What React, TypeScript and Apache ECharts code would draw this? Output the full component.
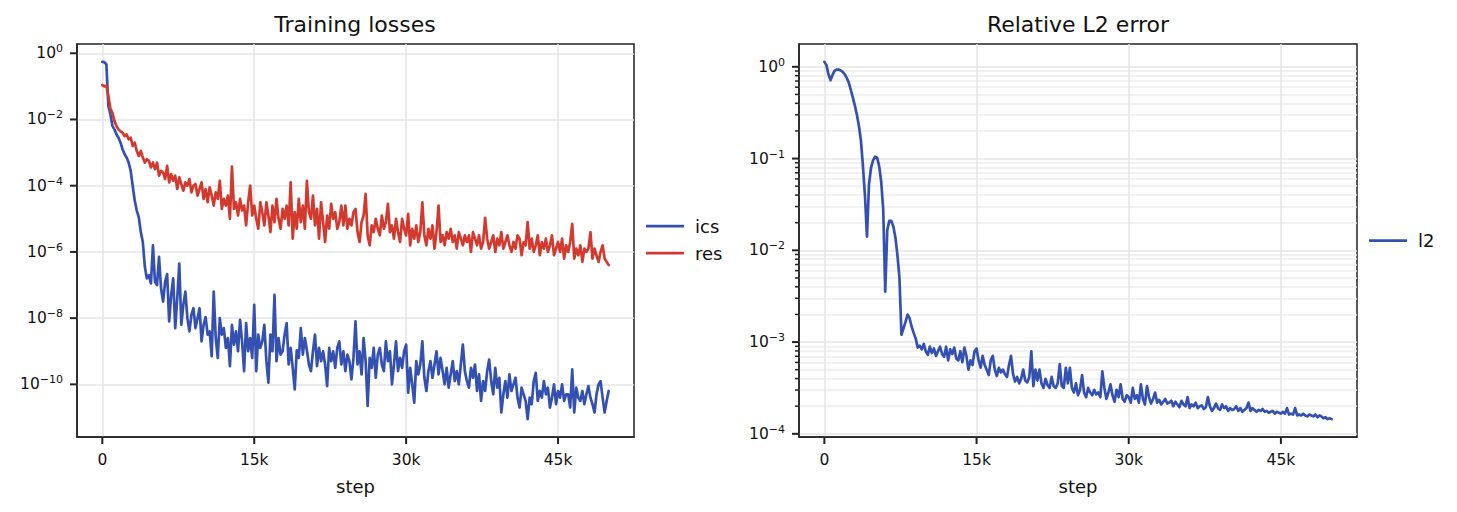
import React, { useEffect, useRef } from "react";
import * as echarts from "echarts";

// Training history, logged every LOG_EVERY steps (values are log10 of the quantity).
const LOG_EVERY = 200;

const icsLog10 = [
  -0.26, -0.27, -0.33, -1.6, -1.85, -2.2, -2.3, -2.45, -2.55, -2.7,
  -2.9, -3.05, -3.15, -3.3, -3.55, -4.0, -4.45, -4.75, -4.95, -5.4,
  -5.7, -6.45, -6.8, -6.7, -6.95, -5.8, -6.9, -7.0, -6.15, -7.1,
  -7.5, -6.9, -6.67, -8.1, -7.3, -6.8, -8.3, -7.4, -6.35, -8.2,
  -7.6, -7.2, -8.0, -8.4, -7.9, -7.7, -8.3, -8.0, -7.7, -8.7,
  -8.2, -7.97, -8.5, -8.4, -9.15, -7.2, -8.6, -9.2, -8.0, -8.5,
  -8.3, -8.9, -8.6, -9.45, -8.2, -8.8, -8.4, -9.0, -8.05, -8.7,
  -9.6, -8.15, -9.0, -8.6, -9.2, -7.6, -9.6, -8.5, -8.9, -8.7,
  -8.2, -9.3, -9.95, -8.5, -9.0, -7.3, -9.3, -8.6, -9.1, -9.0,
  -8.5, -8.15, -9.4, -8.9, -9.5, -10.15, -8.97, -9.2, -8.3, -9.1,
  -8.6, -8.97, -9.4, -9.6, -9.0, -8.5, -9.45, -8.9, -9.3, -9.0,
  -9.4, -10.05, -8.9, -9.3, -9.0, -9.5, -8.9, -8.7, -9.4, -9.0,
  -9.6, -9.1, -9.3, -9.85, -9.2, -8.1, -9.4, -9.0, -9.7, -8.6,
  -9.3, -10.65, -9.2, -9.5, -8.9, -9.8, -9.1, -8.9, -9.4, -9.6,
  -8.7, -9.3, -9.0, -10.0, -9.4, -8.7, -9.6, -9.2, -9.5, -9.0,
  -8.8, -10.25, -9.5, -10.0, -10.55, -9.3, -9.7, -9.4, -8.7, -9.8,
  -10.2, -9.6, -9.3, -9.8, -9.4, -9.0, -9.7, -9.2, -9.6, -10.0,
  -9.5, -10.1, -9.7, -9.3, -9.9, -9.6, -10.0, -9.4, -8.8, -9.6,
  -9.9, -10.1, -9.5, -9.8, -9.4, -10.2, -9.7, -10.5, -9.9, -10.2,
  -9.6, -9.25, -9.9, -10.3, -9.5, -10.1, -9.8, -10.85, -10.3, -9.9,
  -10.4, -9.7, -10.2, -10.0, -9.8, -10.4, -10.7, -10.1, -10.3, -10.5,
  -11.05, -10.4, -10.6, -9.9, -9.65, -10.5, -10.2, -10.4, -9.9, -10.3,
  -10.1, -10.7, -10.4, -10.0, -10.6, -10.2, -10.4, -10.0, -10.5, -10.3,
  -10.3, -10.7, -9.55, -10.85, -10.1, -10.4, -10.5, -10.2, -10.6, -10.3,
  -10.05, -10.4, -10.6, -10.85, -10.3, -10.0, -9.9, -10.4, -10.85, -10.5, -10.2,
];

const resLog10 = [
  -0.96, -1.0, -0.98, -1.3, -1.67, -1.8, -2.05, -2.2, -2.3, -2.36,
  -2.4, -2.5, -2.45, -2.6, -2.55, -2.8, -2.7, -2.95, -3.1, -2.95,
  -3.15, -3.3, -3.2, -3.25, -3.45, -3.3, -3.5, -3.3, -3.7, -3.55,
  -3.6, -3.8, -3.4, -3.9, -3.65, -3.85, -3.7, -4.1, -3.75, -3.95,
  -4.15, -3.9, -4.0, -3.8, -4.2, -4.0, -3.95, -4.3, -4.1, -3.9,
  -4.4, -4.1, -4.5, -4.05, -4.3, -4.6, -4.2, -4.4, -3.85, -4.7,
  -4.4, -4.6, -4.3, -5.0, -3.42, -4.7, -4.5, -4.9, -4.4, -4.75,
  -4.6, -5.2, -4.5, -4.0, -4.9, -4.6, -5.0, -5.3, -4.5, -4.8,
  -5.2, -4.5, -4.9, -5.4, -4.6, -5.1, -4.4, -5.0, -5.3, -4.7,
  -5.0, -4.6, -5.2, -3.9, -5.6, -4.8, -5.3, -4.4, -5.1, -4.6,
  -5.3, -3.85, -4.8, -5.0, -4.3, -5.2, -4.7, -5.6, -4.5, -5.1,
  -5.7, -4.9, -5.3, -4.55, -5.0, -4.8, -5.3, -5.1, -4.6, -5.2,
  -4.6, -5.3, -5.0, -5.2, -4.8, -4.7, -5.4, -5.7, -5.1, -4.9,
  -4.25, -5.5, -5.8, -5.2, -5.4, -5.0, -5.3, -5.5, -4.9, -5.3,
  -5.1, -4.55, -5.4, -5.2, -5.6, -5.0, -5.4, -5.7, -5.0, -5.3,
  -5.5, -4.85, -5.8, -5.3, -5.6, -5.2, -5.7, -5.4, -4.5, -5.5,
  -5.8, -5.3, -5.6, -5.2, -5.9, -5.4, -4.6, -5.7, -5.5, -5.8,
  -5.4, -5.6, -5.3, -5.7, -5.5, -5.9, -5.4, -5.6, -5.8, -5.5,
  -5.7, -5.5, -6.0, -5.4, -5.6, -5.8, -5.5, -5.9, -5.7, -4.97,
  -5.6, -5.9, -5.7, -5.5, -6.0, -5.6, -5.8, -5.4, -5.9, -5.7,
  -5.5, -5.8, -6.0, -5.7, -5.9, -5.5, -5.6, -6.1, -5.7, -5.8,
  -5.1, -5.9, -5.6, -6.0, -5.8, -5.5, -6.1, -5.7, -5.9, -5.6,
  -6.0, -5.8, -5.5, -6.1, -5.9, -5.7, -6.0, -5.6, -6.2, -5.8,
  -6.0, -5.7, -5.15, -6.2, -5.9, -6.1, -5.8, -6.3, -5.9, -6.0,
  -5.9, -5.4, -6.2, -5.9, -6.1, -6.3, -6.0, -5.8, -6.2, -6.3, -6.4,
];

const l2Log10 = [
  0.054, 0.02, -0.08, -0.145, -0.09, -0.045, -0.03, -0.03, -0.04, -0.055,
  -0.08, -0.12, -0.17, -0.25, -0.33, -0.42, -0.52, -0.64, -0.8, -1.08,
  -1.4, -1.85, -1.28, -1.1, -1.02, -0.98, -0.99, -1.08, -1.25, -1.55,
  -2.45, -1.78, -1.68, -1.68, -1.74, -1.86, -2.05, -2.3, -2.92, -2.85,
  -2.78, -2.7, -2.74, -2.83, -2.9, -2.96, -3.06, -3.04, -3.08, -3.02,
  -3.1, -3.14, -3.05, -3.12, -3.07, -3.15, -3.1, -3.05, -3.13, -3.16,
  -3.05, -3.2, -3.08, -3.13, -3.06, -3.18, -3.2, -3.1, -3.22, -3.06,
  -3.15, -3.3, -3.2, -3.25, -3.1, -3.07, -3.2, -3.28, -3.15, -3.25,
  -3.3, -3.36, -3.2, -3.15, -3.3, -3.37, -3.28, -3.33, -3.3, -3.35,
  -3.38, -3.25, -3.15, -3.35, -3.43, -3.38, -3.45, -3.4, -3.3, -3.42,
  -3.44, -3.38, -3.1, -3.48, -3.3, -3.42, -3.3, -3.45, -3.5, -3.4,
  -3.47, -3.5, -3.38, -3.48, -3.5, -3.45, -3.24, -3.48, -3.5, -3.28,
  -3.45, -3.28, -3.5, -3.55, -3.45, -3.58, -3.52, -3.36, -3.55, -3.6,
  -3.5, -3.55, -3.58, -3.52, -3.57, -3.55, -3.6, -3.32, -3.5, -3.62,
  -3.55, -3.46, -3.58, -3.65, -3.52, -3.6, -3.46, -3.62, -3.65, -3.58,
  -3.6, -3.66, -3.5, -3.62, -3.58, -3.66, -3.46, -3.62, -3.68, -3.48,
  -3.6, -3.67, -3.62, -3.55, -3.66, -3.63, -3.68, -3.65, -3.62, -3.67,
  -3.66, -3.64, -3.7, -3.65, -3.68, -3.71, -3.64, -3.68, -3.7, -3.6,
  -3.72, -3.68, -3.7, -3.66, -3.72, -3.7, -3.69, -3.73, -3.71, -3.6,
  -3.7, -3.75, -3.72, -3.67, -3.72, -3.74, -3.68, -3.72, -3.7, -3.75,
  -3.72, -3.74, -3.73, -3.7, -3.75, -3.72, -3.76, -3.74, -3.72, -3.66,
  -3.75, -3.72, -3.74, -3.76, -3.74, -3.75, -3.73, -3.76, -3.75, -3.77,
  -3.76, -3.75, -3.78, -3.76, -3.77, -3.78, -3.76, -3.78, -3.72, -3.79,
  -3.78, -3.79, -3.72, -3.8, -3.79, -3.8, -3.78, -3.8, -3.81, -3.79,
  -3.8, -3.81, -3.79, -3.82, -3.8, -3.81, -3.83, -3.82, -3.84, -3.83, -3.84,
];

// Axis ticks
const stepTicks = [0, 15000, 30000, 45000];
const stepTickLabels = ["0", "15k", "30k", "45k"];
const lossExponents = [-10, -8, -6, -4, -2, 0];
const l2Exponents = [-4, -3, -2, -1, 0];

const BLUE = "#3451b2";
const RED = "#d33a2f";
const INK = "#111111";
const SPINE = "#222222";
const GRID_LINE = "#e4e4e4";
const MINOR_GRID_LINE = "#ececec";
const FONT = '"DejaVu Sans", "Liberation Sans", sans-serif';
const MAJOR_TICK = 7;
const MINOR_TICK = 4;

// matplotlib-style autoscale: data extent padded by 5% on each side
function padded(lo: number, hi: number): [number, number] {
  const pad = (hi - lo) * 0.05;
  return [lo - pad, hi + pad];
}

const lastStep = (icsLog10.length - 1) * LOG_EVERY;
const [X_MIN, X_MAX] = padded(0, lastStep);
const toPairs = (vals: number[]) => vals.map((v, i) => [i * LOG_EVERY, v]);

const lossRange = padded(
  Math.min(...icsLog10, ...resLog10),
  Math.max(...icsLog10, ...resLog10)
);
const l2Range = padded(Math.min(...l2Log10), Math.max(...l2Log10));

// minor decade positions 2..9 x 10^n inside the L2 axis range
const l2Minor: number[] = [];
for (let n = Math.floor(l2Range[0]); n <= Math.ceil(l2Range[1]); n++) {
  for (let k = 2; k <= 9; k++) {
    const v = n + Math.log10(k);
    if (v > l2Range[0] && v < l2Range[1]) l2Minor.push(v);
  }
}

const powerLabel = (v: number) => {
  const e = Math.round(v);
  return `{b|10}{s|${e < 0 ? "\u2212" + Math.abs(e) : e}}`;
};

const powerRich = {
  b: { fontSize: 15.5, fontFamily: FONT, color: INK },
  s: { fontSize: 11, fontFamily: FONT, color: INK, padding: [0, 0, 9, 0] },
};

const spineLine = { show: true, onZero: false, lineStyle: { color: SPINE, width: 1.5 } };

function xAxisFor(gridIndex: number) {
  return {
    type: "value",
    gridIndex,
    position: "bottom",
    min: X_MIN,
    max: X_MAX,
    axisLine: spineLine,
    axisTick: { show: false, customValues: stepTicks },
    axisLabel: {
      customValues: stepTicks,
      formatter: (v: number) => stepTickLabels[stepTicks.indexOf(v)] ?? "",
      margin: 15,
      fontSize: 15.5,
      fontFamily: FONT,
      color: INK,
    },
    splitLine: { show: true, lineStyle: { color: GRID_LINE, width: 1.5 } },
    name: "step",
    nameLocation: "middle",
    nameGap: 40,
    nameTextStyle: { fontSize: 18, fontFamily: FONT, color: INK },
  };
}

function yAxisFor(gridIndex: number, range: [number, number], ticks: number[]) {
  return {
    type: "value",
    gridIndex,
    position: "left",
    min: range[0],
    max: range[1],
    axisLine: spineLine,
    axisTick: { show: false, customValues: ticks },
    axisLabel: {
      customValues: ticks,
      formatter: powerLabel,
      rich: powerRich,
      margin: 14,
    },
    splitLine: { show: true, lineStyle: { color: GRID_LINE, width: 1.5 } },
  };
}

function lineSeries(name: string, vals: number[], color: string, axis: number) {
  return {
    name,
    type: "line",
    xAxisIndex: axis,
    yAxisIndex: axis === 0 ? 0 : 1,
    data: toPairs(vals),
    showSymbol: false,
    symbol: "none",
    color,
    lineStyle: { color, width: 2.7, join: "round", cap: "round" },
    emphasis: { disabled: true },
    silent: true,
  };
}

const legendBase = {
  orient: "vertical",
  icon: "rect",
  itemWidth: 38,
  itemHeight: 2.75,
  itemGap: 7,
  padding: 0,
  selectedMode: false,
  textStyle: {
    fontSize: 18,
    fontFamily: FONT,
    color: INK,
    lineHeight: 20,
    padding: [0, 0, 0, 6],
  },
};

const titleText = (text: string, x: number) => ({
  type: "text",
  x,
  y: 24,
  silent: true,
  style: {
    text,
    font: `22px ${FONT}`,
    fill: INK,
    align: "center",
    verticalAlign: "middle",
    textAlign: "center",
    textVerticalAlign: "middle",
  },
});

export default function App() {
  const ref = useRef<HTMLDivElement>(null);

  useEffect(() => {
    if (!ref.current) return;
    const chart = echarts.init(ref.current, undefined, { renderer: "svg" });
    const gridBox = { show: true, borderColor: SPINE, borderWidth: 1.5, backgroundColor: "transparent" };
    chart.setOption({
      animation: false,
      backgroundColor: "#ffffff",
      textStyle: { fontFamily: FONT },
      grid: [
        { ...gridBox, left: 77, top: 44, width: 557, height: 393, outerBoundsMode: "none" },
        { ...gridBox, left: 799, top: 44, width: 558, height: 393, outerBoundsMode: "none" },
      ],
      legend: [
        { ...legendBase, data: ["ics", "res"], left: 646, top: 216 },
        { ...legendBase, data: ["l2"], left: 1369, top: 230.5 },
      ],
      xAxis: [xAxisFor(0), xAxisFor(1)],
      yAxis: [
        yAxisFor(0, lossRange, lossExponents),
        yAxisFor(1, l2Range, l2Exponents),
        // minor decade grid lines for the L2 panel
        {
          type: "value",
          gridIndex: 1,
          min: l2Range[0],
          max: l2Range[1],
          axisLine: { show: false, onZero: false },
          axisTick: { show: false, customValues: l2Minor },
          axisLabel: { show: false, customValues: l2Minor },
          splitLine: { show: true, lineStyle: { color: MINOR_GRID_LINE, width: 1.5 } },
        },
      ],
      series: [
        lineSeries("ics", icsLog10, BLUE, 0),
        lineSeries("res", resLog10, RED, 0),
        lineSeries("l2", l2Log10, BLUE, 1),
      ],
    });

    // Outward tick marks, as thin filled rects placed through the axes' own scales.
    const ticks: any[] = [];
    const hTick = (xRight: number, y: number, len: number, w: number) =>
      ticks.push({
        type: "rect",
        silent: true,
        z: 100,
        shape: { x: xRight - len, y: y - w / 2, width: len, height: w },
        style: { fill: SPINE },
      });
    const vTick = (x: number, yTop: number, len: number, w: number) =>
      ticks.push({
        type: "rect",
        silent: true,
        z: 100,
        shape: { x: x - w / 2, y: yTop, width: w, height: len },
        style: { fill: SPINE },
      });
    const toPx = (finder: any, v: number) => Number(chart.convertToPixel(finder, v));
    const panels = [
      { axis: 0, range: lossRange, major: lossExponents, minor: [] as number[] },
      { axis: 1, range: l2Range, major: l2Exponents, minor: l2Minor },
    ];
    panels.forEach(({ axis, range, major, minor }) => {
      const left = toPx({ xAxisIndex: axis }, X_MIN);
      const bottom = toPx({ yAxisIndex: axis }, range[0]);
      stepTicks.forEach((v) => vTick(toPx({ xAxisIndex: axis }, v), bottom, MAJOR_TICK, 2));
      major.forEach((v) => hTick(left, toPx({ yAxisIndex: axis }, v), MAJOR_TICK, 2));
      minor.forEach((v) => hTick(left, toPx({ yAxisIndex: axis }, v), MINOR_TICK, 1.5));
    });

    chart.setOption({
      graphic: [
        titleText("Training losses", 355),
        titleText("Relative L2 error", 1078),
        ...ticks,
      ],
    });
    return () => chart.dispose();
  }, []);

  return (
    <div
      ref={ref}
      style={{ position: "fixed", left: 0, top: 0, width: 1457, height: 512, background: "#fff" }}
    />
  );
}
